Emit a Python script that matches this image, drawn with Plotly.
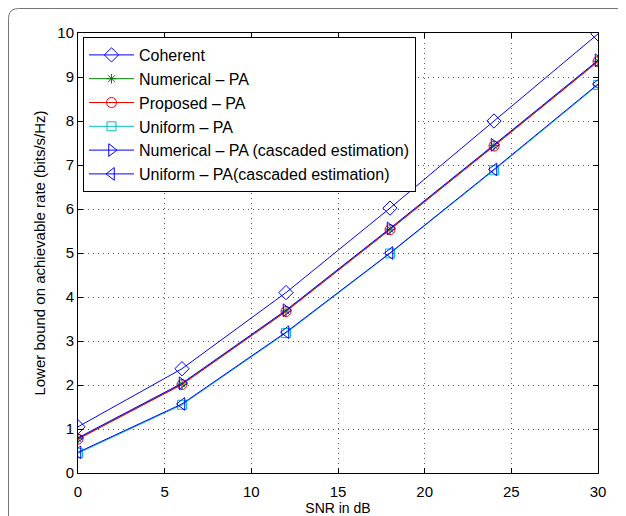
import plotly.graph_objects as go

snr = [0, 6, 12, 18, 24, 30]
coherent = [1.05, 2.37, 4.10, 6.02, 8.00, 9.98]
numerical_pa = [0.78, 2.02, 3.68, 5.54, 7.44, 9.36]
proposed_pa = [0.77, 2.01, 3.67, 5.53, 7.43, 9.35]
uniform_pa = [0.45, 1.55, 3.18, 4.99, 6.88, 8.82]
numerical_casc = [0.80, 2.04, 3.70, 5.56, 7.46, 9.38]
uniform_casc = [0.47, 1.57, 3.20, 5.00, 6.90, 8.84]

series = [
    ("Coherent", coherent, "#0000ff", "diamond-open", 11),
    ("Numerical – PA", numerical_pa, "#008000", "asterisk-open", 8),
    ("Proposed – PA", proposed_pa, "#ff0000", "circle-open", 10),
    ("Uniform – PA", uniform_pa, "#00bfbf", "square-open", 9),
    ("Numerical – PA (cascaded estimation)", numerical_casc, "#0000ff", "triangle-right-open", 11),
    ("Uniform – PA(cascaded estimation)", uniform_casc, "#0000ff", "triangle-left-open", 11),
]

fig = go.Figure()
for name, ys, color, sym, sz in series:
    fig.add_trace(go.Scatter(
        x=snr, y=ys, name=name, mode="lines+markers",
        line=dict(color=color, width=1),
        marker=dict(symbol=sym, size=sz, color=color, line=dict(color=color, width=1)),
    ))

# page body has an 8px margin, so the figure is offset by 8px
OFF = 8
W, H = 626 - OFF, 516 - OFF
L, R, T, B = 78 - OFF, 28, 33 - OFF, 43
pw, ph = W - L - R, H - T - B

def px(x):
    return (x - OFF - L) / pw

def py(y):
    return (H - B - (y - OFF)) / ph

r = 10
x0, yt = px(8.5), py(8.5)
ybot = py(530)
path = (f"M {x0},{ybot} L {x0},{py(8.5 + r)} Q {x0},{yt} {px(8.5 + r)},{yt} L {px(640)},{yt}")
fig.add_shape(type="path", path=path, xref="paper", yref="paper",
              line=dict(color="#777777", width=1), layer="above")

axis_common = dict(
    showline=True, linecolor="black", linewidth=1, mirror="ticks",
    ticks="inside", ticklen=5, tickcolor="black",
    showgrid=True, gridcolor="#555555", griddash="1px,4px", gridwidth=1,
    zeroline=False, tickfont=dict(size=15, color="black"), automargin=False,
)

fig.update_layout(
    width=W, height=H,
    margin=dict(l=L, r=R, t=T, b=B),
    paper_bgcolor="white", plot_bgcolor="white",
    font=dict(family="Liberation Sans, Arial, sans-serif", color="black"),
    showlegend=True,
    legend=dict(x=5 / pw, y=1 - 4 / ph, xanchor="left", yanchor="top",
                bgcolor="white", bordercolor="black", borderwidth=1,
                font=dict(size=16, color="black"), tracegroupgap=0,
                itemwidth=45),
    xaxis=dict(range=[0, 30], tickvals=[0, 5, 10, 15, 20, 25, 30],
               ticklabelstandoff=5,
               title=dict(text="SNR in dB", font=dict(size=14), standoff=0),
               **axis_common),
    yaxis=dict(range=[0, 10], tickvals=list(range(0, 11)),
               title=dict(text="Lower bound on achievable rate (bits/s/Hz)", font=dict(size=15), standoff=8),
               **axis_common),
)

fig.write_html("out.html")
